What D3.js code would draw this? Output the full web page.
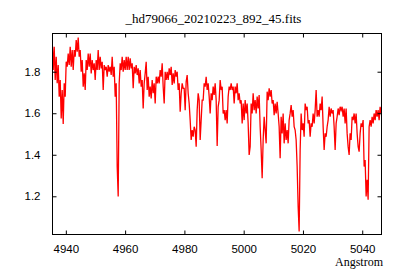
<!DOCTYPE html>
<html>
<head>
<meta charset="utf-8">
<script src="https://cdn.jsdelivr.net/npm/d3@7"></script>
<style>
  body { margin: 0; background: #fff; }
  svg { display: block; }
  .tick text { font-family: "Liberation Sans", Arial, sans-serif; font-size: 11.5px; fill: #000; }
  .tick line { stroke: #000; }
</style>
</head>
<body>
<svg width="400" height="280"></svg>
<script>
// spectrum grid (from the fits header) and flux
const crval1 = 4935.4;
const cdelt1 = 0.3373;
const flux = [
  1.952,1.808,1.920,1.760,1.872,1.744,1.832,1.680,1.760,1.575,
  1.712,1.548,1.744,1.680,1.848,1.824,1.888,1.832,1.920,1.824,
  1.904,1.808,1.904,1.872,1.952,1.896,1.965,1.872,1.904,1.800,
  1.856,1.728,1.792,1.712,1.856,1.808,1.888,1.824,1.888,1.792,
  1.856,1.808,1.840,1.760,1.856,1.808,1.904,1.808,1.872,1.816,
  1.848,1.712,1.832,1.808,1.824,1.776,1.832,1.800,1.824,1.784,
  1.872,1.776,1.824,1.680,1.744,1.343,
  1.199,1.744,1.840,1.808,1.872,1.800,1.856,1.808,1.872,1.808,
  1.872,1.808,1.864,1.816,1.840,1.720,1.824,1.792,1.832,1.784,
  1.816,1.744,1.808,1.728,1.760,1.623,1.744,1.792,1.848,1.712,
  1.776,1.680,1.728,1.671,1.760,1.696,1.744,1.647,1.776,1.744,
  1.776,1.744,1.808,1.776,1.840,1.728,1.647,1.800,1.760,1.800,
  1.760,1.816,1.784,1.824,1.736,1.792,1.744,1.808,1.776,1.800,
  1.712,1.744,1.607,1.696,1.744,1.720,
  1.720,1.615,1.752,1.784,1.696,1.647,1.567,1.471,1.519,1.487,
  1.535,1.519,1.439,1.615,1.696,1.663,1.471,1.567,1.663,1.663,
  1.744,1.728,1.776,1.712,1.744,1.680,1.599,1.696,1.663,1.728,
  1.688,1.744,1.663,1.442,1.631,1.663,1.760,1.712,1.728,1.599,
  1.615,1.567,1.615,1.551,1.680,1.728,1.712,1.744,1.712,1.728,
  1.647,1.728,1.696,1.744,1.663,1.696,1.647,1.663,1.551,1.647,
  1.567,1.663,1.599,1.647,1.551,1.399,
  1.439,1.647,1.599,1.696,1.615,1.663,1.599,1.680,1.623,1.688,
  1.535,1.423,1.287,1.471,1.583,1.519,1.455,1.704,1.663,1.720,
  1.680,1.712,1.647,1.663,1.591,1.647,1.599,1.655,1.599,1.535,
  1.383,1.583,1.503,1.599,1.455,1.551,1.471,1.519,1.455,1.567,
  1.599,1.639,1.583,1.615,1.535,1.519,1.471,1.343,1.151,1.030,
  1.423,1.599,1.519,1.551,1.487,1.647,1.615,1.631,1.551,1.567,
  1.487,1.551,1.535,1.599,1.551,1.615,
  1.712,1.583,1.615,1.583,1.647,1.615,1.680,1.535,1.423,1.503,
  1.487,1.535,1.567,1.631,1.583,1.623,1.599,1.615,1.535,1.423,
  1.551,1.583,1.623,1.591,1.631,1.615,1.631,1.583,1.623,1.551,
  1.623,1.503,1.439,1.399,1.503,1.471,1.583,1.567,1.599,1.551,
  1.599,1.503,1.439,1.415,1.503,1.551,1.535,1.567,1.343,1.375,
  1.199,1.279,1.183,1.535,1.567,1.535,1.583,1.551,1.599,1.567,
  1.615,1.583,1.615,1.567,1.631,1.599
];
const xRange = [4935.5, 5046.5];
const yRange = [1.016, 1.984];
const xTicks = [4940, 4960, 4980, 5000, 5020, 5040];
const yTicks = [1.2, 1.4, 1.6, 1.8];
const title = '_hd79066_20210223_892_45.fits';
const xLabel = 'Angstrom';

const spectrum = flux.map((f, i) => ({ wave: crval1 + i * cdelt1, flux: f }));

const plotL = 52.5, plotR = 381.5, plotT = 33.5, plotB = 234.5;
const svg = d3.select('svg');

const x = d3.scaleLinear().domain(xRange).range([plotL, plotR]);
const y = d3.scaleLinear().domain(yRange).range([plotB, plotT]);

svg.append('defs').append('clipPath').attr('id', 'plot')
	.append('rect').attr('x', plotL).attr('y', plotT).attr('width', plotR - plotL).attr('height', plotB - plotT);

svg.append('path')
	.datum(spectrum)
	.attr('clip-path', 'url(#plot)')
	.attr('fill', 'none')
	.attr('stroke', '#ff0000')
	.attr('stroke-width', 1.3)
	.attr('d', d3.line().x((d) => x(d.wave)).y((d) => y(d.flux)));

// axes, ticks pointing inward, mirrored on top/right
svg.append('g').attr('transform', `translate(0,${plotB})`)
	.call(d3.axisBottom(x).tickValues(xTicks).tickFormat(d3.format('d')).tickSizeInner(-4).tickSizeOuter(0).tickPadding(10))
	.call((g) => g.select('.domain').remove());
svg.append('g').attr('transform', `translate(0,${plotT})`)
	.call(d3.axisTop(x).tickValues(xTicks).tickFormat('').tickSizeInner(-4).tickSizeOuter(0))
	.call((g) => g.select('.domain').remove());
svg.append('g').attr('transform', `translate(${plotL},0)`)
	.call(d3.axisLeft(y).tickValues(yTicks).tickFormat(d3.format('.1f')).tickSizeInner(-4).tickSizeOuter(0).tickPadding(12))
	.call((g) => g.select('.domain').remove());
svg.append('g').attr('transform', `translate(${plotR},0)`)
	.call(d3.axisRight(y).tickValues(yTicks).tickFormat('').tickSizeInner(-4).tickSizeOuter(0))
	.call((g) => g.select('.domain').remove());

svg.append('rect')
	.attr('x', plotL).attr('y', plotT)
	.attr('width', plotR - plotL).attr('height', plotB - plotT)
	.attr('fill', 'none').attr('stroke', '#000').attr('stroke-width', 1);

svg.append('text')
	.attr('x', 213.5).attr('y', 23)
	.attr('text-anchor', 'middle')
	.attr('font-family', '"Liberation Serif", "Times New Roman", serif')
	.attr('font-size', 13)
	.text(title);

svg.append('text')
	.attr('x', 383).attr('y', 266)
	.attr('text-anchor', 'end')
	.attr('font-family', '"Liberation Serif", "Times New Roman", serif')
	.attr('font-size', 12)
	.text(xLabel);
</script>
</body>
</html>
